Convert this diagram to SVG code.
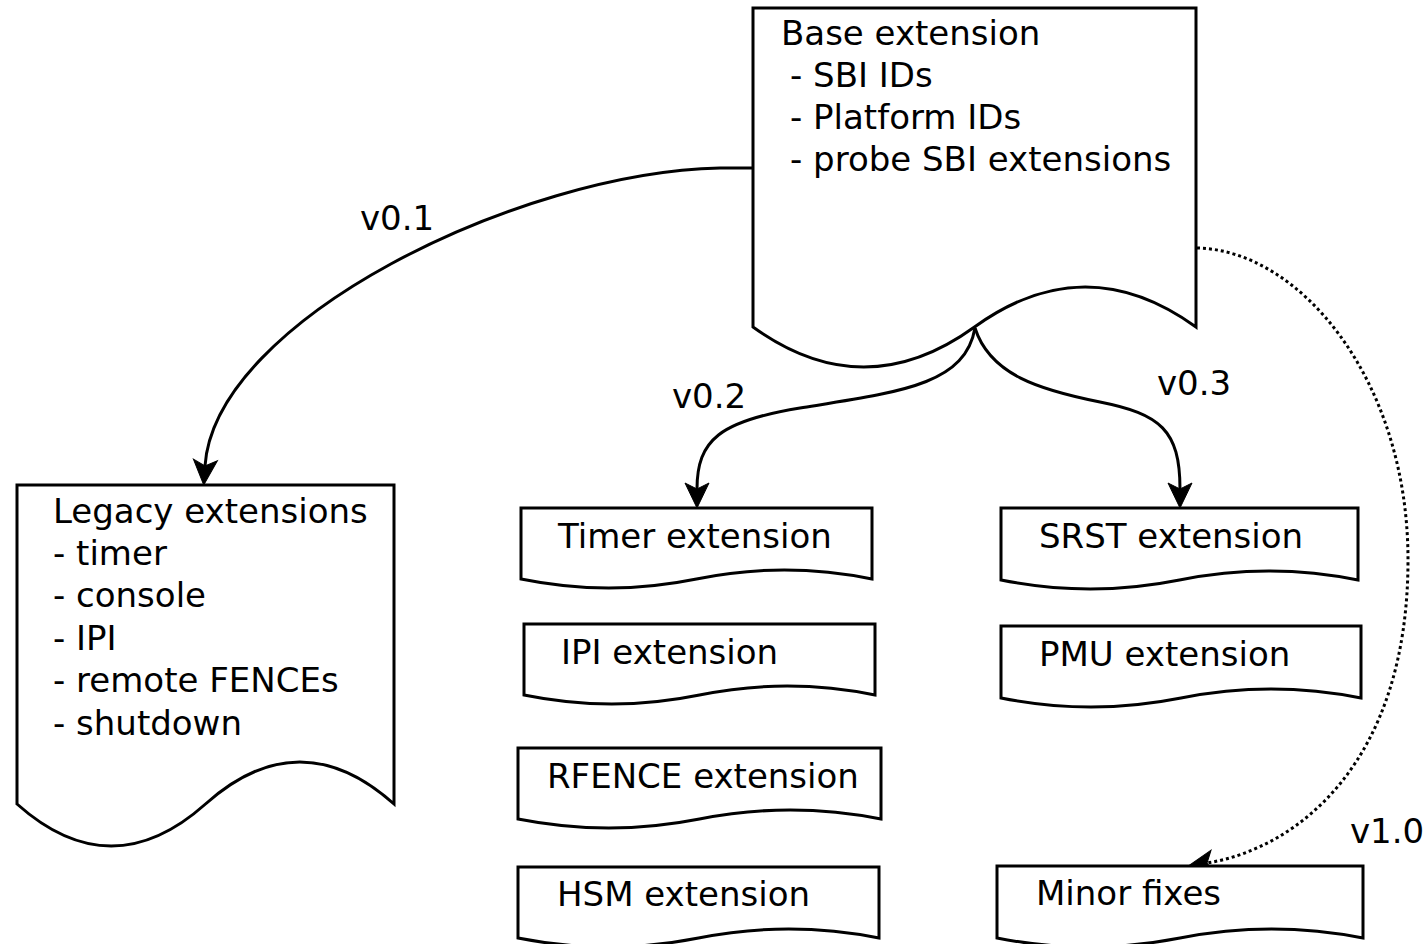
<svg xmlns="http://www.w3.org/2000/svg" width="1428" height="944" viewBox="0 0 1428 944">
<style>
.box{fill:#fff;stroke:#000;stroke-width:3;stroke-linejoin:miter}
.t{font-family:"DejaVu Sans","Liberation Sans",sans-serif;font-size:34px;fill:#000}
.c{fill:none;stroke:#000;stroke-width:3}
.d{fill:none;stroke:#000;stroke-width:3;stroke-dasharray:3 3}
</style>
<defs>
<marker id="ah" markerUnits="userSpaceOnUse" orient="auto" refX="0" refY="0" markerWidth="30" markerHeight="30" overflow="visible">
<path d="M19,0 L-6,-12 L0,0 L-6,12 Z" fill="#000" stroke="#000" stroke-width="1"/>
</marker>
</defs>
<rect width="1428" height="944" fill="#fff"/>
<g id="connectors">
<path class="c" d="M753,168 L720,168 C520,172 215,320 205,466" marker-end="url(#ah)"/>
<path class="c" d="M975,328 C965,385 900,392 800,408 C720,421 697,440 697,489" marker-end="url(#ah)"/>
<path class="c" d="M975,328 C990,375 1040,390 1100,402 C1160,414 1180,430 1180,489" marker-end="url(#ah)"/>
<path class="d" d="M1197,248 C1300,250 1408,380 1408,560 C1408,760 1300,848 1207,863" marker-end="url(#ah)"/>
<text class="t" x="360" y="230">v0.1</text>
<text class="t" x="672" y="408">v0.2</text>
<text class="t" x="1157" y="395">v0.3</text>
<text class="t" x="1350" y="843">v1.0</text>
</g>
<g id="base">
<path class="box" d="M753,8 H1196 V327 C1122.2,273.7 1048.3,273.7 974.5,327 C900.7,380.3 826.8,380.3 753,327 Z"/>
<text class="t" x="781" y="45">Base extension</text>
<text class="t" x="790" y="87">- SBI IDs</text>
<text class="t" x="790" y="129">- Platform IDs</text>
<text class="t" x="790" y="171">- probe SBI extensions</text>
</g>
<g id="legacy">
<path class="box" d="M17,485 H394 V804 C331.2,748 268.3,748 205.5,804 C142.7,860 79.8,860 17,804 Z"/>
<text class="t" x="53" y="523">Legacy extensions</text>
<text class="t" x="53" y="565">- timer</text>
<text class="t" x="53" y="607">- console</text>
<text class="t" x="53" y="650">- IPI</text>
<text class="t" x="53" y="692">- remote FENCEs</text>
<text class="t" x="53" y="735">- shutdown</text>
</g>
<g id="timer">
<path class="box" d="M521,508 H872 V579 C813.5,567 755,567 696.5,579 C638,591 579.5,591 521,579 Z"/>
<text class="t" x="558" y="548">Timer extension</text>
</g>
<g id="ipi">
<path class="box" d="M524,624 H875 V695 C816.5,683 758,683 699.5,695 C641,707 582.5,707 524,695 Z"/>
<text class="t" x="561" y="664">IPI extension</text>
</g>
<g id="rfence">
<path class="box" d="M518,748 H881 V819 C820.5,807 760,807 699.5,819 C639,831 578.5,831 518,819 Z"/>
<text class="t" x="547" y="788">RFENCE extension</text>
</g>
<g id="hsm">
<path class="box" d="M518,867 H879 V938 C818.8,926 758.7,926 698.5,938 C638.3,950 578.2,950 518,938 Z"/>
<text class="t" x="557" y="906">HSM extension</text>
</g>
<g id="srst">
<path class="box" d="M1001,508 H1358 V580 C1298.5,568 1239,568 1179.5,580 C1120,592 1060.5,592 1001,580 Z"/>
<text class="t" x="1039" y="548">SRST extension</text>
</g>
<g id="pmu">
<path class="box" d="M1001,626 H1361 V698 C1301,686 1241,686 1181,698 C1121,710 1061,710 1001,698 Z"/>
<text class="t" x="1039" y="666">PMU extension</text>
</g>
<g id="minor">
<path class="box" d="M997,866 H1363 V938 C1302,926 1241,926 1180,938 C1119,950 1058,950 997,938 Z"/>
<text class="t" x="1036" y="905">Minor fixes</text>
</g>
</svg>
